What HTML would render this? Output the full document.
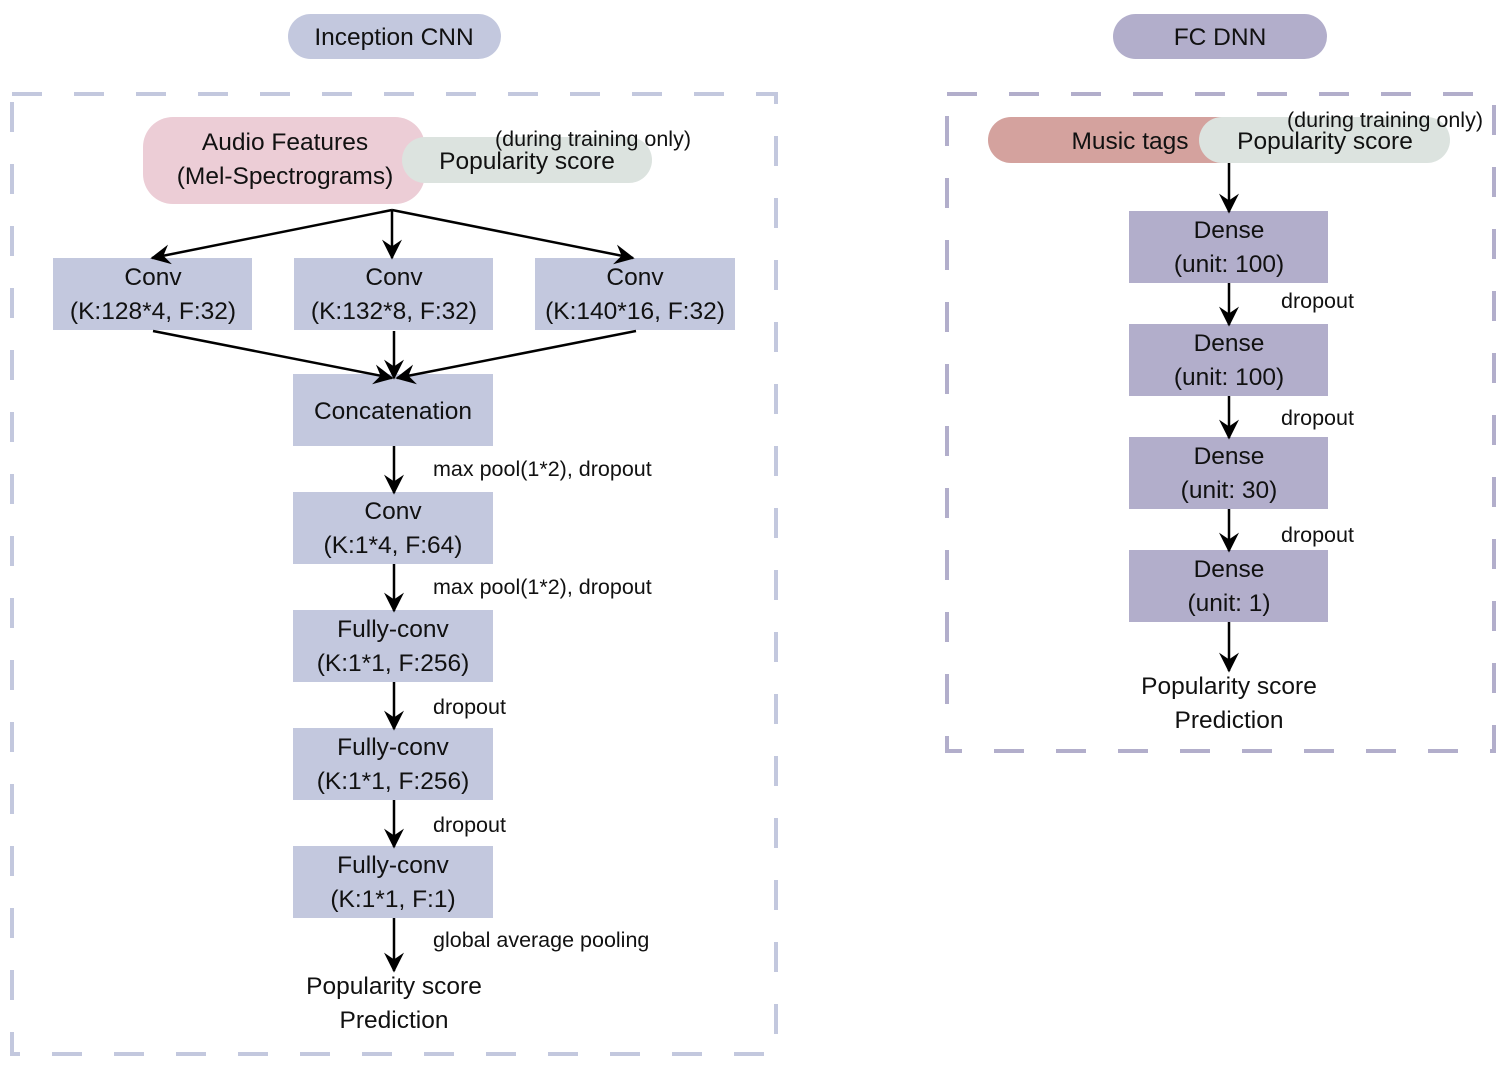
<!DOCTYPE html>
<html><head><meta charset="utf-8"><style>
html,body{margin:0;padding:0;background:#fff}
svg{display:block}
text{font-family:"Liberation Sans",sans-serif;fill:#111}
.b{font-size:24.5px}
.s{font-size:21.5px}
</style></head><body>
<svg width="1512" height="1068" viewBox="0 0 1512 1068" xmlns="http://www.w3.org/2000/svg">
<defs>
<marker id="a" viewBox="0 0 12 12" refX="11" refY="6" markerWidth="22" markerHeight="20" markerUnits="userSpaceOnUse" orient="auto">
<path d="M0,0 L12,6 L0,12 L4,6 z" fill="#000"/>
</marker>
</defs>
<rect x="12" y="94" width="764" height="960" fill="none" stroke="#c3c8de" stroke-width="4" stroke-dasharray="30 32"/>
<rect x="947" y="94" width="547" height="657" fill="none" stroke="#b2aecb" stroke-width="4" stroke-dasharray="30 32"/>

<rect x="288" y="14" width="213" height="45" rx="22.5" fill="#c3c8de"/>
<text class="b" x="394" y="45" text-anchor="middle">Inception CNN</text>
<rect x="1113" y="14" width="214" height="45" rx="22.5" fill="#b2aecb"/>
<text class="b" x="1220" y="45" text-anchor="middle">FC DNN</text>

<rect x="143" y="117" width="282" height="87" rx="30" fill="#eccdd6"/>
<text class="b" x="285" y="150" text-anchor="middle">Audio Features</text>
<text class="b" x="285" y="184" text-anchor="middle">(Mel-Spectrograms)</text>
<rect x="402" y="137" width="250" height="46" rx="23" fill="#dce3df"/>
<text class="b" x="527" y="169" text-anchor="middle">Popularity score</text>
<text class="s" x="495" y="146">(during training only)</text>

<g fill="#c3c8de">
<rect x="53" y="258" width="199" height="72"/>
<rect x="294" y="258" width="199" height="72"/>
<rect x="535" y="258" width="200" height="72"/>
<rect x="293" y="374" width="200" height="72"/>
<rect x="293" y="492" width="200" height="72"/>
<rect x="293" y="610" width="200" height="72"/>
<rect x="293" y="728" width="200" height="72"/>
<rect x="293" y="846" width="200" height="72"/>
</g>
<g text-anchor="middle">
<text class="b" x="153" y="285">Conv</text><text class="b" x="153" y="319">(K:128*4, F:32)</text>
<text class="b" x="394" y="285">Conv</text><text class="b" x="394" y="319">(K:132*8, F:32)</text>
<text class="b" x="635" y="285">Conv</text><text class="b" x="635" y="319">(K:140*16, F:32)</text>
<text class="b" x="393" y="419">Concatenation</text>
<text class="b" x="393" y="519">Conv</text><text class="b" x="393" y="553">(K:1*4, F:64)</text>
<text class="b" x="393" y="637">Fully-conv</text><text class="b" x="393" y="671">(K:1*1, F:256)</text>
<text class="b" x="393" y="755">Fully-conv</text><text class="b" x="393" y="789">(K:1*1, F:256)</text>
<text class="b" x="393" y="873">Fully-conv</text><text class="b" x="393" y="907">(K:1*1, F:1)</text>
<text class="b" x="394" y="994">Popularity score</text><text class="b" x="394" y="1028">Prediction</text>
</g>
<g stroke="#000" stroke-width="2.5" marker-end="url(#a)" fill="none">
<line x1="392" y1="210" x2="152" y2="258"/>
<line x1="392" y1="210" x2="392" y2="258"/>
<line x1="392" y1="210" x2="633" y2="258"/>
<line x1="153" y1="331" x2="392" y2="378"/>
<line x1="394" y1="331" x2="394" y2="378"/>
<line x1="636" y1="331" x2="397" y2="378"/>
<line x1="394" y1="446" x2="394" y2="493"/>
<line x1="394" y1="564" x2="394" y2="611"/>
<line x1="394" y1="682" x2="394" y2="729"/>
<line x1="394" y1="800" x2="394" y2="847"/>
<line x1="394" y1="918" x2="394" y2="971"/>
</g>
<text class="s" x="433" y="476">max pool(1*2), dropout</text>
<text class="s" x="433" y="594">max pool(1*2), dropout</text>
<text class="s" x="433" y="714">dropout</text>
<text class="s" x="433" y="832">dropout</text>
<text class="s" x="433" y="947">global average pooling</text>

<rect x="988" y="117" width="300" height="46" rx="23" fill="#d4a29e"/>
<rect x="1199" y="117" width="251" height="46" rx="23" fill="#dce3df"/>
<text class="b" x="1130" y="149" text-anchor="middle">Music tags</text>
<text class="b" x="1325" y="149" text-anchor="middle">Popularity score</text>
<text class="s" x="1287" y="127">(during training only)</text>
<g fill="#b2aecb">
<rect x="1129" y="211" width="199" height="72"/>
<rect x="1129" y="324" width="199" height="72"/>
<rect x="1129" y="437" width="199" height="72"/>
<rect x="1129" y="550" width="199" height="72"/>
</g>
<g text-anchor="middle">
<text class="b" x="1229" y="238">Dense</text><text class="b" x="1229" y="272">(unit: 100)</text>
<text class="b" x="1229" y="351">Dense</text><text class="b" x="1229" y="385">(unit: 100)</text>
<text class="b" x="1229" y="464">Dense</text><text class="b" x="1229" y="498">(unit: 30)</text>
<text class="b" x="1229" y="577">Dense</text><text class="b" x="1229" y="611">(unit: 1)</text>
<text class="b" x="1229" y="694">Popularity score</text><text class="b" x="1229" y="728">Prediction</text>
</g>
<g stroke="#000" stroke-width="2.5" marker-end="url(#a)">
<line x1="1229" y1="163" x2="1229" y2="212"/>
<line x1="1229" y1="283" x2="1229" y2="325"/>
<line x1="1229" y1="396" x2="1229" y2="438"/>
<line x1="1229" y1="509" x2="1229" y2="551"/>
<line x1="1229" y1="622" x2="1229" y2="671"/>
</g>
<text class="s" x="1281" y="308">dropout</text>
<text class="s" x="1281" y="425">dropout</text>
<text class="s" x="1281" y="542">dropout</text>
</svg>
</body></html>
